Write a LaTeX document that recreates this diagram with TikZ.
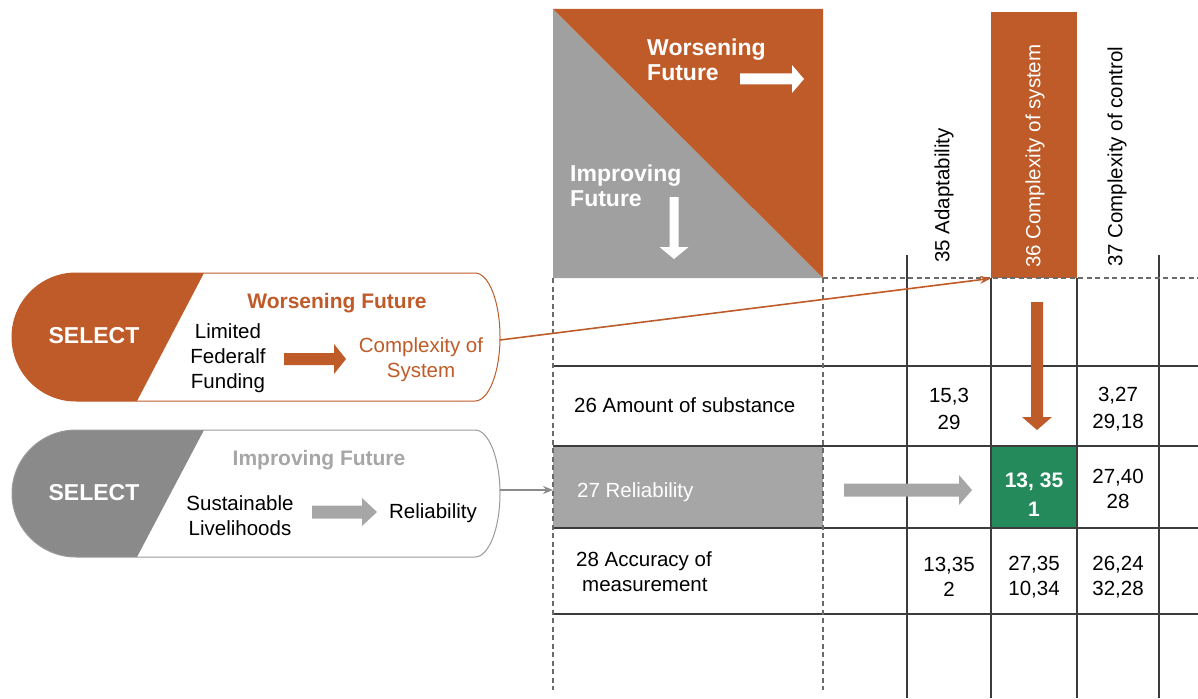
\documentclass[tikz,border=0pt]{standalone}
\usepackage{fontspec}
\setmainfont{Liberation Sans}
\usetikzlibrary{arrows.meta}
\definecolor{org}{HTML}{BE5B28}
\definecolor{trigray}{HTML}{A0A0A0}
\definecolor{selgray}{HTML}{8A8A8A}
\definecolor{rowgray}{HTML}{A6A6A6}
\definecolor{grn}{HTML}{24895B}
\definecolor{gridc}{HTML}{3C3C3C}
\definecolor{dashc}{HTML}{6A6A6A}
\definecolor{pillgray}{HTML}{9A9A9A}
\newcommand\setfs[2]{\fontsize{#1}{#2}\selectfont}
\newcommand\rarrow[7]{\fill[#1] (#2,#4-#5) -- (#3-#7,#4-#5) -- (#3-#7,#4-#6) -- (#3,#4) -- (#3-#7,#4+#6) -- (#3-#7,#4+#5) -- (#2,#4+#5) -- cycle;}
\newcommand\darrow[7]{\fill[#1] (#2-#5,#3) -- (#2-#5,#4-#7) -- (#2-#6,#4-#7) -- (#2,#4) -- (#2+#6,#4-#7) -- (#2+#5,#4-#7) -- (#2+#5,#3) -- cycle;}
\tikzset{
  txt/.style={inner sep=0pt, font=\setfs{20.5}{25}},
  cell/.style={inner sep=0pt, align=center, font=\setfs{20.5}{26.5}},
  rot/.style={inner sep=0pt, rotate=90, anchor=west, font=\setfs{20.5}{25}},
  hdr/.style={inner sep=0pt, align=left, anchor=north west, text=white, font=\bfseries\setfs{23}{25}},
  sel/.style={inner sep=0pt, text=white, font=\bfseries\setfs{23}{25}},
  sub/.style={inner sep=0pt, anchor=base, font=\bfseries\setfs{21}{25}},
  gridline/.style={draw=gridc, line width=1.1pt},
  dashline/.style={draw=dashc, line width=1.5pt, dash pattern=on 5pt off 3.5pt},
  box/.style={inner sep=0pt, anchor=north west}
}
\begin{document}
\begin{tikzpicture}[x=1pt,y=-1pt]
\useasboundingbox (0,0) rectangle (1198,698);
% header triangle square
\fill[trigray] (553,9) -- (553,278) -- (823,278) -- cycle;
\fill[org] (553,9) -- (823,9) -- (823,278) -- cycle;
% filled cells
\node[box, fill=org, minimum width=86pt, minimum height=266pt] (col36) at (991,12) {};
\node[box, fill=rowgray, minimum width=270pt, minimum height=82pt] (row27) at (553,446) {};
\node[box, fill=grn, minimum width=86pt, minimum height=82pt] (cellG) at (991,446) {};
% grid
\foreach \y in {366,446,528,614} \draw[gridline] (553,\y) -- (1198,\y);
\draw[gridline] (907,255) -- (907,698);
\draw[gridline] (1159,255) -- (1159,698);
\draw[gridline] (991,278) -- (991,698);
\draw[gridline] (1077,278) -- (1077,698);
\draw[dashline] (553,278) -- (553,690);
\draw[dashline] (823,278) -- (823,690);
\draw[dashline] (823,278) -- (1198,278);
% header texts
\node[hdr] (hW) at (647,39) {Worsening\\Future};
\node[hdr] (hI) at (570,165) {Improving\\Future};
\rarrow{white}{740}{804}{79}{5.5}{14}{12}
\darrow{white}{674}{197}{259}{4.5}{14.5}{12}
\node[rot] (c35) at (944,263) {35 Adaptability};
\node[rot, text=white] (c36) at (1035,268) {36 Complexity of system};
\node[rot] (c37) at (1117,267) {37 Complexity of control};
% row labels
\node[txt, anchor=base west] (r26) at (574,412) {26 Amount of substance};
\node[txt, anchor=base west, text=white] (r27) at (577,497) {27 Reliability};
\node[txt, anchor=north west, align=left] (r28) at (576,551) {28 Accuracy of\\\hspace*{6pt}measurement};
% cells
\node[cell] (a26) at (949,409) {15,3\\29};
\node[cell] (c26) at (1118,409) {3,27\\29,18};
\node[cell, text=white, font=\bfseries\setfs{21}{29}] (b27) at (1034,495) {13, 35\\1};
\node[cell, font=\setfs{20.5}{25}] (c27) at (1118,488.5) {27,40\\28};
\node[cell, font=\setfs{20.5}{25}] (a28) at (949,577) {13,35\\2};
\node[cell, font=\setfs{20.5}{25}] (b28) at (1034,577) {27,35\\10,34};
\node[cell, font=\setfs{20.5}{25}] (c28) at (1118,577) {26,24\\32,28};
% arrows in grid
\darrow{org}{1037}{302}{430}{6}{15}{13}
\rarrow{rowgray}{844}{972}{490}{6.5}{15}{13}
% orange pill
\fill[org] (204,273) -- (76,273) .. controls (40.7,273) and (12,301.7) .. (12,337) .. controls (12,372.3) and (40.7,401) .. (76,401) -- (137,401) -- cycle;
\draw[org, line width=1pt] (76,273) -- (475,273) .. controls (488.8,273) and (500,301.7) .. (500,337) .. controls (500,372.3) and (488.8,401) .. (475,401) -- (76,401) .. controls (40.7,401) and (12,372.3) .. (12,337) .. controls (12,301.7) and (40.7,273) .. (76,273) -- cycle;
% gray pill
\fill[selgray] (204,430) -- (76,430) .. controls (40.7,430) and (12,458.7) .. (12,493.5) .. controls (12,528.3) and (40.7,557) .. (76,557) -- (137,557) -- cycle;
\draw[pillgray, line width=1pt] (76,430) -- (475,430) .. controls (488.8,430) and (500,458.7) .. (500,493.5) .. controls (500,528.3) and (488.8,557) .. (475,557) -- (76,557) .. controls (40.7,557) and (12,528.3) .. (12,493.5) .. controls (12,458.7) and (40.7,430) .. (76,430) -- cycle;
% pill texts
\node[sel] (s1) at (94,336) {SELECT};
\node[sel] (s2) at (94,493) {SELECT};
\node[sub, text=org] (wf) at (337,308) {Worsening Future};
\node[sub, text=rowgray] (if) at (319,465) {Improving Future};
\node[txt, anchor=north, align=center] (lff) at (228,323) {Limited\\Federalf\\Funding};
\node[txt, anchor=north, align=center, text=org] (cos) at (421,337) {Complexity of\\System};
\node[txt, anchor=north, align=center] (sl) at (240,495) {Sustainable\\Livelihoods};
\node[txt, anchor=base] (rel) at (433,518) {Reliability};
\rarrow{org}{284}{346}{359}{6}{15}{12}
\rarrow{rowgray}{312}{377}{512}{6.5}{14}{15}
% connectors
\coordinate (wOut) at (500,340);
\coordinate (iOut) at (500,490);
\draw[org, line width=1.6pt, -{Stealth[length=11pt,width=8pt]}] (wOut) -- (col36.south west);
\draw[pillgray!90!black, line width=1.3pt, -{Stealth[length=10pt,width=8pt]}] (iOut) -- (iOut -| row27.west);
\end{tikzpicture}
\end{document}
